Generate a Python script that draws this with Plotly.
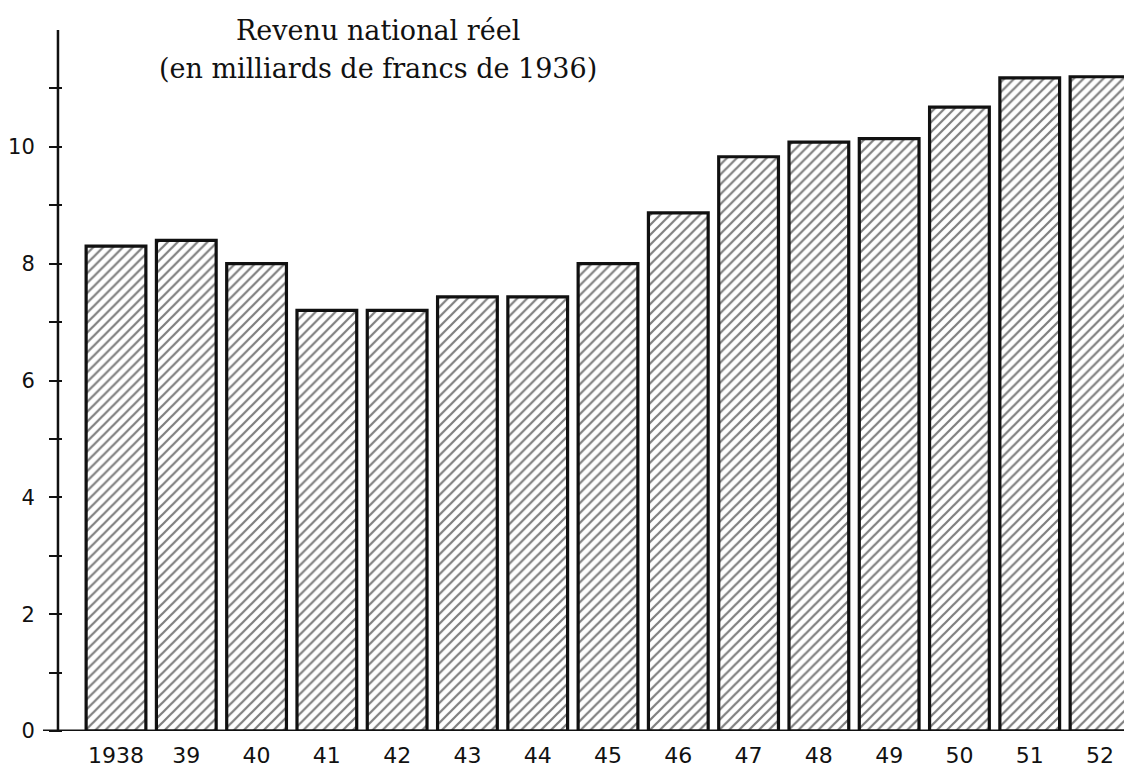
import plotly.graph_objects as go

years = ["1938", "39", "40", "41", "42", "43", "44", "45", "46", "47", "48", "49", "50", "51", "52"]
revenu = [8.3, 8.4, 8.0, 7.2, 7.2, 7.43, 7.43, 8.0, 8.87, 9.83, 10.08, 10.14, 10.68, 11.18, 11.2]
y_ticks = [0, 2, 4, 6, 8, 10]
y_minor_ticks = [1, 3, 5, 7, 9, 11]
title_lines = ["Revenu national réel", "(en milliards de francs de 1936)"]

INK = "#111"
fig = go.Figure()
fig.add_trace(go.Bar(
    x=list(range(len(years))), y=revenu,
    marker=dict(color="white", line=dict(color=INK, width=3.2),
                pattern=dict(shape="/", fgcolor="#000", bgcolor="white", size=7, solidity=0.32)),
    width=0.85, hoverinfo="skip",
))

fig.update_layout(
    width=1124, height=761,
    margin=dict(l=55, r=0, t=22, b=38, autoexpand=False),
    paper_bgcolor="white", plot_bgcolor="white",
    showlegend=False,
    xaxis=dict(range=[-0.754, 14.455], tickmode="array", tickvals=list(range(len(years))),
               ticktext=years, showgrid=False, zeroline=False, showline=False, ticks="",
               automargin=False, ticklabelstandoff=9,
               tickfont=dict(family="DejaVu Sans", size=22, color=INK)),
    yaxis=dict(range=[0, 12], tickmode="array", tickvals=y_ticks, showgrid=False, zeroline=False,
               showline=False, automargin=False,
               ticks="outside", ticklen=13, tickwidth=2, tickcolor=INK,
               minor=dict(tickmode="array", tickvals=y_minor_ticks, ticks="outside",
                          ticklen=13, tickwidth=2, tickcolor=INK),
               ticklabelstandoff=10,
               tickfont=dict(family="DejaVu Sans", size=21, color=INK)),
)

# y axis line (ticks cross it) and x axis line extending left
fig.add_shape(type="line", xref="paper", yref="y", x0=-0.0047, x1=-0.0047, y0=0, y1=12,
              line=dict(color=INK, width=2.5))
fig.add_shape(type="line", xref="paper", yref="y", x0=-0.0187, x1=1, y0=0, y1=0,
              line=dict(color=INK, width=3))

fig.add_annotation(xref="paper", yref="paper", x=0.295, y=1.0, xanchor="center", yanchor="middle",
                   text=title_lines[0], showarrow=False, yshift=0,
                   font=dict(family="DejaVu Serif", size=27, color=INK))
fig.add_annotation(xref="paper", yref="paper", x=0.295, y=1.0, xanchor="center", yanchor="middle",
                   text=title_lines[1], showarrow=False, yshift=-38,
                   font=dict(family="DejaVu Serif", size=27, color=INK))

fig.write_html("out.html")
